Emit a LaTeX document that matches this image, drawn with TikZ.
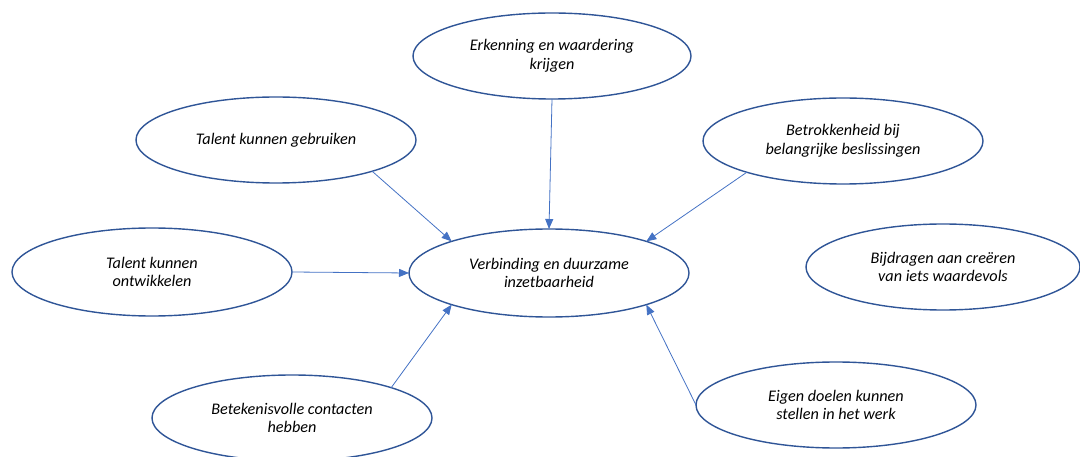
\documentclass[tikz,border=0pt]{standalone}
\usepackage{fontspec}
\setmainfont{Carlito}
\usetikzlibrary{shapes.geometric,arrows.meta}
\definecolor{edgeblue}{HTML}{2F5597}
\definecolor{arrblue}{HTML}{4472C4}
\begin{document}
\begin{tikzpicture}[x=1pt,y=-1pt,
  bubble/.style={ellipse,draw=edgeblue,line width=1.4pt,minimum width=280pt,minimum height=86pt,
    inner sep=0pt,outer sep=0pt,align=center,text=black,font=\fontsize{16.2}{18.5}\selectfont\itshape},
  link/.style={draw=arrblue,line width=0.8pt,-{Triangle[length=10pt,width=8pt,fill=arrblue]}}]
\useasboundingbox (0,0) rectangle (1080,457);
\node[bubble,minimum width=278pt] (erk) at (552,56) {Erkenning en waardering\\krijgen};
\node[bubble] (gebr) at (276,140) {Talent kunnen gebruiken};
\node[bubble] (betr) at (843,141) {Betrokkenheid bij\\belangrijke beslissingen};
\node[bubble,minimum height=88pt] (ontw) at (152,272) {Talent kunnen\\ontwikkelen};
\node[bubble,minimum height=88pt] (verb) at (549,273) {Verbinding en duurzame\\inzetbaarheid};
\node[bubble,minimum width=274pt] (bijd) at (943,267) {Bijdragen aan creëren\\van iets waardevols};
\node[bubble] (bet) at (292,418) {Betekenisvolle contacten\\hebben};
\node[bubble] (eig) at (836,405) {Eigen doelen kunnen\\stellen in het werk};
\draw[link] (erk.south) -- (verb.north);
\draw[link] (gebr.-18) -- (verb.162);
\draw[link] (betr.198) -- (verb.18);
\draw[link] (ontw.east) -- (verb.west);
\draw[link] (bet.17) -- (verb.198);
\draw[link] (eig.west) -- (verb.-18);
\end{tikzpicture}
\end{document}
